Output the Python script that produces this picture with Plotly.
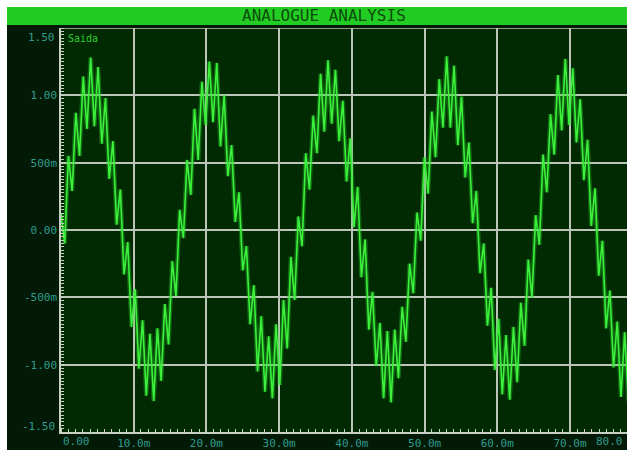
import numpy as np
import plotly.graph_objects as go

# ---- data ----
sample_step_ms = 0.51  # time between successive ripple extremes
saida_values = [
    # period 1
    0.12, -0.10, 0.55, 0.29, 0.87, 0.55, 1.14, 0.75, 1.28, 0.77, 1.21, 0.64, 0.98, 0.38, 0.66, 0.04,
    0.30, -0.33, -0.09, -0.72, -0.44, -1.03, -0.67, -1.23, -0.77, -1.27, -0.73, -1.12, -0.55, -0.85, -0.23, -0.49,
    # period 2
    0.15, -0.06, 0.52, 0.26, 0.90, 0.52, 1.10, 0.78, 1.25, 0.80, 1.24, 0.62, 1.00, 0.40, 0.63, 0.06,
    0.28, -0.30, -0.12, -0.70, -0.41, -1.05, -0.64, -1.20, -0.79, -1.25, -0.70, -1.15, -0.52, -0.88, -0.20, -0.52,
    # period 3
    0.10, -0.12, 0.57, 0.30, 0.85, 0.57, 1.16, 0.73, 1.26, 0.79, 1.19, 0.66, 0.96, 0.36, 0.68, 0.02,
    0.32, -0.35, -0.07, -0.74, -0.46, -1.01, -0.69, -1.25, -0.75, -1.28, -0.74, -1.10, -0.57, -0.83, -0.25, -0.47,
    # period 4
    0.13, -0.08, 0.54, 0.27, 0.88, 0.54, 1.12, 0.76, 1.29, 0.76, 1.22, 0.63, 0.99, 0.39, 0.65, 0.05,
    0.29, -0.32, -0.10, -0.71, -0.43, -1.04, -0.66, -1.22, -0.78, -1.26, -0.72, -1.13, -0.54, -0.86, -0.22, -0.50,
    # period 5
    0.11, -0.11, 0.56, 0.28, 0.86, 0.56, 1.15, 0.74, 1.27, 0.78, 1.20, 0.65, 0.97, 0.37, 0.67, 0.03,
    0.31, -0.34, -0.08, -0.73, -0.45, -1.02, -0.68, -1.24, -0.76, -1.27, -0.71, -1.11, -0.56, -0.84, -0.24, -0.48,
]
time_ms = np.arange(len(saida_values)) * sample_step_ms

x_tick_vals = [10, 20, 30, 40, 50, 60, 70]
x_tick_text = ["10.0m", "20.0m", "30.0m", "40.0m", "50.0m", "60.0m", "70.0m"]
y_tick_vals = [-1.0, -0.5, 0.0, 0.5, 1.0]
y_tick_text = ["-1.00", "-500m", "0.00", "500m", "1.00"]
title_text = "ANALOGUE ANALYSIS"
trace_name = "Saida"

# ---- styling ----
W, H = 627, 450
ML, MR, MT, MB = 61, 0, 28, 18
PW, PH = W - ML - MR, H - MT - MB
X_MAX = 77.84

def px_x(p):
    return (p - ML) / PW

def px_y(p):
    return (H - MB - p) / PH

LABEL_FONT = dict(family="DejaVu Sans Mono", size=11, color="#2e9c8e")
GRID = "#bcc6b8"
BG_DARK = "#031a06"
PLOT_BG = "#012a02"

fig = go.Figure()
fig.add_trace(go.Scatter(x=time_ms, y=saida_values, mode="lines",
                         line=dict(color="rgba(40,210,40,0.35)", width=4.5),
                         hoverinfo="skip", showlegend=False))
fig.add_trace(go.Scatter(x=time_ms, y=saida_values, mode="lines", name=trace_name,
                         line=dict(color="#3cf03c", width=1.6), showlegend=False))

fig.update_layout(
    width=W, height=H,
    margin=dict(l=ML, r=MR, t=MT, b=MB),
    paper_bgcolor=BG_DARK, plot_bgcolor=PLOT_BG,
    xaxis=dict(range=[0, X_MAX], tickvals=x_tick_vals, ticktext=x_tick_text,
               showgrid=True, gridcolor=GRID, gridwidth=1.5, zeroline=False,
               showline=True, linecolor="#c8d0c4", linewidth=1.5,
               ticks="", tickfont=LABEL_FONT,
               minor=dict(ticks="inside", ticklen=3, tickcolor="#c8d0c4", dtick=1, showgrid=False)),
    yaxis=dict(range=[-1.5, 1.5], tickvals=y_tick_vals, ticktext=y_tick_text,
               showgrid=True, gridcolor=GRID, gridwidth=1.5, zeroline=False,
               showline=True, linecolor="#c8d0c4", linewidth=1.5,
               ticks="", tickfont=LABEL_FONT,
               minor=dict(ticks="inside", ticklen=3, tickcolor="#c8d0c4", dtick=0.025, showgrid=False)),
    showlegend=False,
)

# top gridline at 1.50
fig.add_shape(type="line", xref="paper", yref="y", x0=0, x1=1, y0=1.5, y1=1.5,
              line=dict(color=GRID, width=1.5), layer="above")

# white border strips and green title bar
fig.add_shape(type="rect", xref="paper", yref="paper", x0=px_x(0), x1=px_x(7),
              y0=px_y(H), y1=px_y(0), fillcolor="white", line_width=0, layer="above")
fig.add_shape(type="rect", xref="paper", yref="paper", x0=px_x(0), x1=px_x(W),
              y0=px_y(7), y1=px_y(0), fillcolor="white", line_width=0, layer="above")
fig.add_shape(type="rect", xref="paper", yref="paper", x0=px_x(7), x1=px_x(W),
              y0=px_y(25), y1=px_y(7), fillcolor="#22cc22", line_width=0, layer="above")

fig.add_annotation(text=title_text, xref="paper", yref="paper", x=px_x(324), y=px_y(16),
                   xanchor="center", yanchor="middle", showarrow=False,
                   font=dict(family="DejaVu Sans Mono", size=16, color="#0c4d0c"))
fig.add_annotation(text=trace_name, xref="paper", yref="paper", x=px_x(66), y=px_y(38),
                   xanchor="left", yanchor="middle", showarrow=False,
                   font=dict(family="DejaVu Sans Mono", size=10, color="#2ecc2e"))

# end tick labels clamped inside the plot, as in the reference
fig.add_annotation(text="1.50", xref="paper", yref="paper", x=px_x(57), y=px_y(37),
                   xanchor="right", yanchor="middle", showarrow=False, font=LABEL_FONT)
fig.add_annotation(text="-1.50", xref="paper", yref="paper", x=px_x(57), y=px_y(426),
                   xanchor="right", yanchor="middle", showarrow=False, font=LABEL_FONT)
fig.add_annotation(text="0.00", xref="x", yref="paper", x=0, y=px_y(441),
                   xanchor="left", yanchor="middle", showarrow=False, font=LABEL_FONT)
fig.add_annotation(text="80.0", xref="paper", yref="paper", x=px_x(625), y=px_y(441),
                   xanchor="right", yanchor="middle", showarrow=False, font=LABEL_FONT)

fig.write_html("out.html")
